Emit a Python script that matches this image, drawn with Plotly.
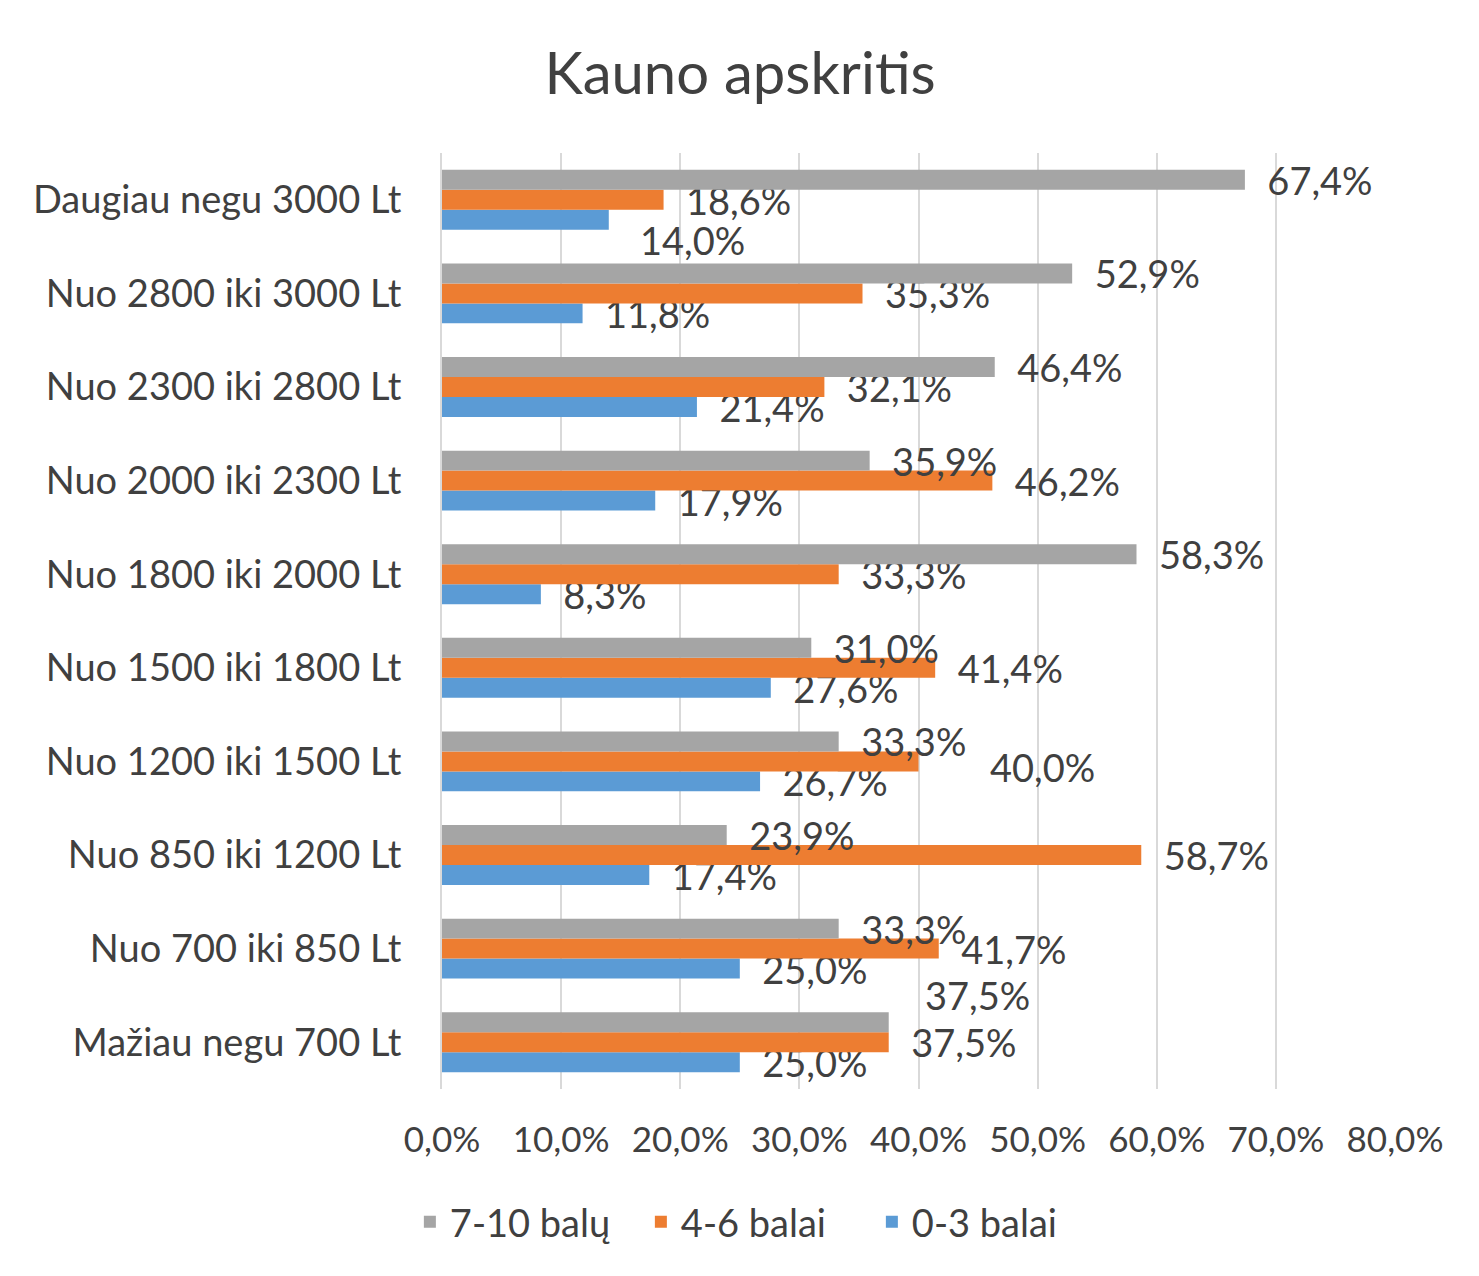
import plotly.graph_objects as go

categories = [
    "Mažiau negu 700 Lt",
    "Nuo 700 iki 850 Lt",
    "Nuo 850 iki 1200 Lt",
    "Nuo 1200 iki 1500 Lt",
    "Nuo 1500 iki 1800 Lt",
    "Nuo 1800 iki 2000 Lt",
    "Nuo 2000 iki 2300 Lt",
    "Nuo 2300 iki 2800 Lt",
    "Nuo 2800 iki 3000 Lt",
    "Daugiau negu 3000 Lt",
]
balai_0_3 = [25.0, 25.0, 17.4, 26.7, 27.6, 8.3, 17.9, 21.4, 11.8, 14.0]
balai_4_6 = [37.5, 41.7, 58.7, 40.0, 41.4, 33.3, 46.2, 32.1, 35.3, 18.6]
balai_7_10 = [37.5, 33.3, 23.9, 33.3, 31.0, 58.3, 35.9, 46.4, 52.9, 67.4]
x_ticks = [0, 10, 20, 30, 40, 50, 60, 70, 80]
x_tick_labels = ["0,0%", "10,0%", "20,0%", "30,0%", "40,0%", "50,0%", "60,0%", "70,0%", "80,0%"]

# labels that the reference moves away from their bar: (series, category) -> (dx, dy) in px
moved_labels = {
    ("0-3 balai", "Daugiau negu 3000 Lt"): (29, -40),
    ("7-10 balų", "Mažiau negu 700 Lt"): (34, 47),
    ("4-6 balai", "Nuo 1200 iki 1500 Lt"): (69, -6),
}

def fmt(v):
    return f"{v:.1f}".replace(".", ",") + "%"

series = [
    ("0-3 balai", balai_0_3, "#5b9bd5"),
    ("4-6 balai", balai_4_6, "#ed7d31"),
    ("7-10 balų", balai_7_10, "#a5a5a5"),
]

FONT = "Lato, Liberation Sans, sans-serif"
TXT = "#404040"
LABEL_SIZE = 38

fig = go.Figure()
for name, vals, col in series:
    texts = []
    for cat, v in zip(categories, vals):
        if (name, cat) in moved_labels:
            dx, dy = moved_labels[(name, cat)]
            texts.append("")
            fig.add_annotation(x=v, y=cat, text=fmt(v), showarrow=False,
                               xanchor="left", yanchor="middle", xshift=dx,
                               yshift=dy,
                               font=dict(size=LABEL_SIZE, color=TXT, family=FONT))
        else:
            texts.append("\u00a0\u00a0" + fmt(v))
    fig.add_trace(go.Bar(
        y=categories, x=vals, name=name, orientation="h",
        marker=dict(color=col, line=dict(width=0)),
        text=texts, textposition="outside",
        constraintext="none",
        textfont=dict(size=LABEL_SIZE, color=TXT, family=FONT),
        cliponaxis=False,
    ))

fig.update_layout(
    width=1479, height=1276,
    paper_bgcolor="white", plot_bgcolor="white",
    barmode="group", bargap=0.36, bargroupgap=0,
    margin=dict(l=434, r=92, t=145, b=195, autoexpand=False),
    font=dict(family=FONT, color=TXT, size=37),
    title=dict(text="Kauno apskritis", x=0.495, xref="container", xanchor="center",
               y=1 - 66 / 1276, yanchor="middle", yref="container",
               font=dict(size=58, color=TXT, family=FONT)),
    legend=dict(orientation="h", traceorder="reversed", x=0.506, xref="container",
                xanchor="center", y=1 - 1214 / 1276, yref="container", yanchor="middle",
                entrywidth=186, entrywidthmode="pixels",
                font=dict(size=38, color=TXT, family=FONT)),
    uniformtext=dict(mode=False),
)
fig.update_xaxes(range=[0, 80], tickvals=x_ticks, ticktext=x_tick_labels,
                 showgrid=True, gridcolor="#d9d9d9", gridwidth=2, zeroline=False,
                 tickfont=dict(size=35, color=TXT), ticklabelstandoff=27,
                 showline=False, fixedrange=True, automargin=False)
fig.update_yaxes(showgrid=False, showline=True, linecolor="#d9d9d9", linewidth=2,
                 tickfont=dict(size=38, color=TXT), ticks="", ticklabelstandoff=31,
                 range=[-0.5, 9.5], automargin=False)

fig.write_html("out.html")
